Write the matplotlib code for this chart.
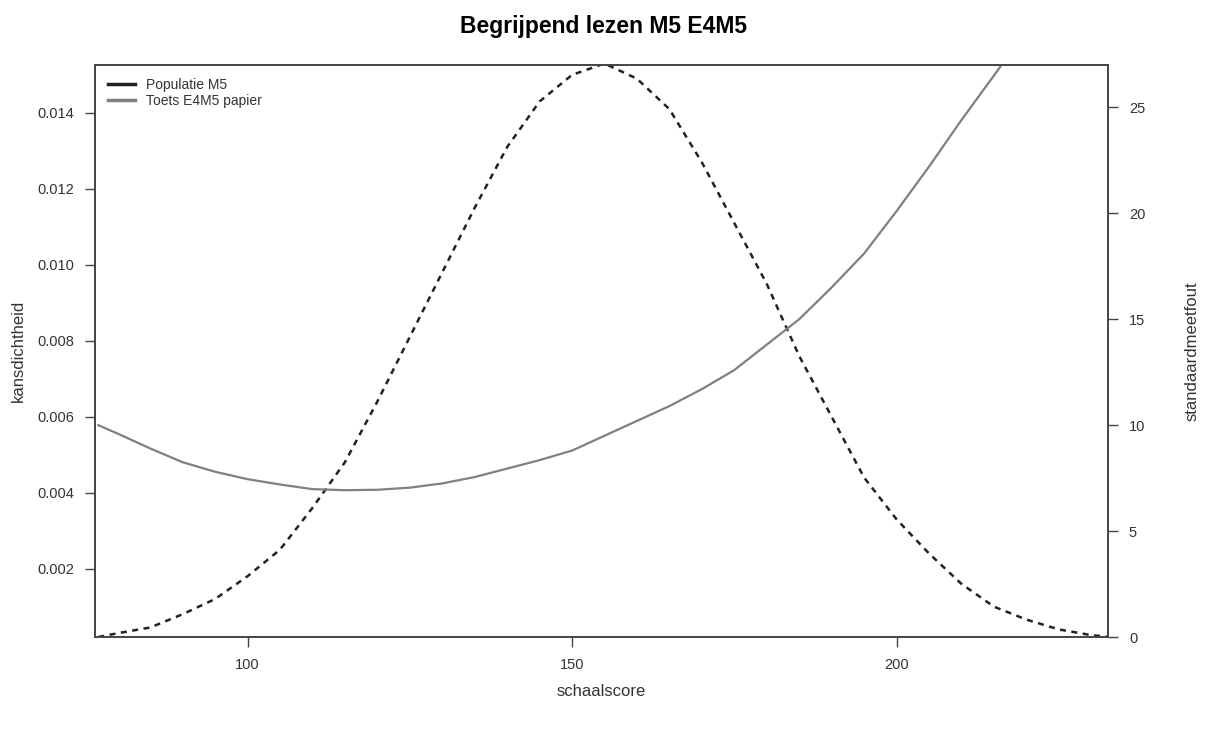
import matplotlib.pyplot as plt
import numpy as np

plt.rcParams['font.family'] = ['Liberation Sans', 'DejaVu Sans']

# schaalscore grid
scores = [77, 80, 85, 90, 95, 100, 105, 110, 115, 120, 125, 130, 135, 140, 145,
          150, 155, 160, 165, 170, 175, 180, 185, 190, 195, 200, 205, 210, 215,
          220, 225, 230, 233]

# populatie M5 density (left axis)
density = [0.0002, 0.0003, 0.00045, 0.0008, 0.0012, 0.0018, 0.0025, 0.0036,
           0.0048, 0.0064, 0.0081, 0.0098, 0.0115, 0.0131, 0.0143, 0.0150,
           0.0153, 0.0149, 0.0141, 0.0127, 0.0111, 0.0095, 0.0076, 0.0060,
           0.0044, 0.0033, 0.0024, 0.0016, 0.0010, 0.00066, 0.0004, 0.00025,
           0.0002]

# standaardmeetfout toets E4M5 papier (right axis)
se_scores = [77, 80, 85, 90, 95, 100, 105, 110, 115, 120, 125, 130, 135, 140,
             145, 150, 155, 160, 165, 170, 175, 180, 185, 190, 195, 200, 205,
             210, 215, 220]
se_values = [10.0, 9.6, 8.9, 8.25, 7.8, 7.45, 7.2, 6.98, 6.93, 6.95, 7.05,
             7.25, 7.55, 7.95, 8.35, 8.8, 9.5, 10.2, 10.9, 11.7, 12.6, 13.8,
             15.0, 16.5, 18.1, 20.1, 22.2, 24.4, 26.5, 28.6]

left_ticks = [0.002, 0.004, 0.006, 0.008, 0.010, 0.012, 0.014]
right_ticks = [0, 5, 10, 15, 20, 25]
x_ticks = [100, 150, 200]

my_dpi = 100
fig = plt.figure(figsize=(1206 / my_dpi, 729 / my_dpi), dpi=my_dpi)
ax = fig.add_axes([0.0788, 0.1262, 0.84, 0.7846])
ax2 = ax.twinx()

axis_col = '#444444'
text_col = '#333333'

l1, = ax.plot(scores, density, color='#222222', lw=1.8, ls=(0, (2.4, 2.2)))
l2, = ax2.plot(se_scores, se_values, color='#808080', lw=1.6)

ax.set_xlim(76.5, 232.6)
ax.set_ylim(0.0002, 0.01526)
ax2.set_ylim(0, 27.0)

ax.set_xticks(x_ticks)
ax.set_yticks(left_ticks)
ax.set_yticklabels(['{:.3f}'.format(t) for t in left_ticks])
ax2.set_yticks(right_ticks)

for a in (ax, ax2):
    for s in a.spines.values():
        s.set_color(axis_col)
        s.set_linewidth(1.2)
    a.tick_params(direction='out', length=7, width=1, color=axis_col,
                  labelsize=10.5, labelcolor=text_col, pad=8)

ax.set_xlabel('schaalscore', fontsize=12, color=text_col, labelpad=9)
ax.set_ylabel('kansdichtheid', fontsize=12, color=text_col, labelpad=8)
ax2.set_ylabel('standaardmeetfout', fontsize=12, color=text_col, labelpad=28)

fig.suptitle('Begrijpend lezen M5 E4M5', fontsize=16.5, fontweight='bold',
             y=0.98, x=0.5)

ax.legend([plt.Line2D([], [], color='#222222', lw=2.5),
           plt.Line2D([], [], color='#808080', lw=2.5)],
          ['Populatie M5', 'Toets E4M5 papier'],
          loc='upper left', frameon=False, fontsize=10, handlelength=2.0,
          labelspacing=0.15, borderaxespad=0.5, handletextpad=0.8,
          labelcolor=text_col)

plt.savefig('out.png', dpi=my_dpi)
